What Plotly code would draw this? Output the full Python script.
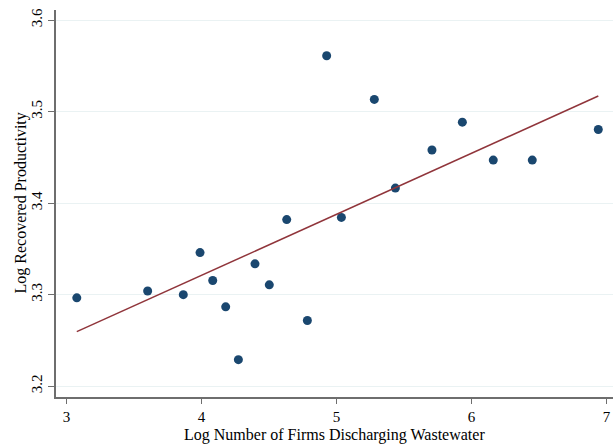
import numpy as np
import plotly.graph_objects as go

# Log number of firms discharging wastewater (x) and log recovered productivity (y)
log_firms = [3.076, 3.601, 3.865, 3.989, 4.083, 4.179, 4.273, 4.396, 4.502, 4.631,
             4.784, 4.927, 5.036, 5.280, 5.436, 5.707, 5.932, 6.161, 6.450, 6.939]
log_productivity = [3.2965, 3.304, 3.300, 3.346, 3.3155, 3.2867, 3.229, 3.3337, 3.3107, 3.382,
                    3.2718, 3.561, 3.3844, 3.5133, 3.4164, 3.458, 3.4885, 3.447, 3.447, 3.4805]

x_ticks = [3, 4, 5, 6, 7]
y_ticks = [3.2, 3.3, 3.4, 3.5, 3.6]

x_title = "Log Number of Firms Discharging Wastewater"
y_title = "Log Recovered Productivity"

# Linear fit across the observed range
slope, intercept = np.polyfit(log_firms, log_productivity, 1)
fit_x = [min(log_firms), max(log_firms)]
fit_y = [intercept + slope * v for v in fit_x]

font_family = "Liberation Serif, Times New Roman, serif"

fig = go.Figure()
fig.add_trace(go.Scatter(
    x=log_firms, y=log_productivity, mode="markers",
    marker=dict(color="#1a476f", size=9, line=dict(width=0)),
    showlegend=False,
))
fig.add_trace(go.Scatter(
    x=fit_x, y=fit_y, mode="lines",
    line=dict(color="#90353b", width=1.5),
    showlegend=False,
))

axis_color = "#6e6e6e"
fig.update_layout(
    width=613, height=444,
    margin=dict(l=56, r=0, t=10, b=47),
    paper_bgcolor="white", plot_bgcolor="white",
    font=dict(family=font_family, size=16, color="black"),
    xaxis=dict(
        range=[2.922, 7.048], tickvals=x_ticks, ticktext=[str(v) for v in x_ticks],
        showgrid=False, zeroline=False,
        showline=True, linecolor=axis_color, linewidth=1.5,
        ticks="outside", ticklen=5, tickcolor=axis_color, tickwidth=1,
        tickfont=dict(size=15),
    ),
    yaxis=dict(
        range=[3.1882, 3.611], tickvals=y_ticks, ticktext=[f"{v:.1f}" for v in y_ticks],
        showgrid=True, gridcolor="#eaf2f3", gridwidth=1, zeroline=False,
        showline=True, linecolor=axis_color, linewidth=1.5,
        ticks="outside", ticklen=6, tickcolor=axis_color, tickwidth=1,
        tickangle=-90, tickfont=dict(size=15),
    ),
    annotations=[
        dict(text=x_title, xref="paper", yref="paper", x=0.5, y=-0.099,
             xanchor="center", yanchor="middle", showarrow=False,
             font=dict(size=16)),
        dict(text=y_title, xref="paper", yref="paper", x=-0.0646, y=0.5,
             xanchor="center", yanchor="middle", textangle=-90, showarrow=False,
             font=dict(size=16)),
    ],
)

fig.write_html("out.html")
